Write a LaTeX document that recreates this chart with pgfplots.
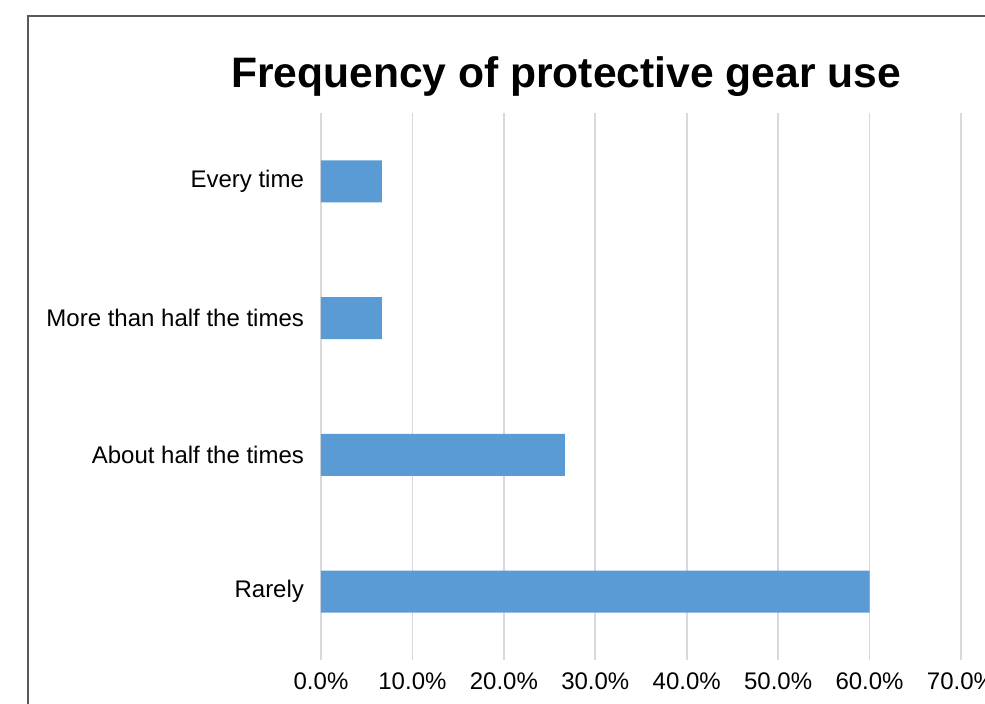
\documentclass[border=0pt]{standalone}
\usepackage{pgfplots}
\pgfplotsset{compat=1.18}
\usepackage{fontspec}
\setmainfont{Liberation Sans}
\definecolor{barblue}{HTML}{5B9BD5}
\definecolor{gridgray}{HTML}{D9D9D9}
\definecolor{framegray}{HTML}{595959}
\begin{document}
\begin{tikzpicture}
% page area and chart frame
\path[use as bounding box] (-160.5pt,-21.5pt) rectangle (332pt,330pt);
\draw[framegray, line width=0.8pt] (-146.5pt,-60pt) -- (-146.5pt,322pt) -- (360pt,322pt);
\node[anchor=base, font=\fontsize{21.3}{24}\selectfont\bfseries] at (122.5pt,286pt) {Frequency of protective gear use};
\begin{axis}[
  at={(0pt,0pt)}, anchor=south west,
  scale only axis, width=320pt, height=273.5pt,
  xbar, bar width=21pt,
  xmin=0, xmax=70, ymin=-0.5, ymax=3.5,
  axis line style={draw=none},
  xmajorgrids, grid style={gridgray, line width=0.8pt},
  xtick={0,10,...,70},
  ytick={0,1,2,3},
  yticklabels={Rarely, About half the times, More than half the times, Every time},
  xticklabel={\pgfmathprintnumber[fixed,fixed zerofill,precision=1]{\tick}\%},
  /pgf/number format/assume math mode=true,
  tick label style={font=\fontsize{12}{14}\selectfont, black},
  xticklabel style={yshift=-3pt},
  yticklabel style={xshift=-5pt},
  major tick length=0pt, tick style={draw=none},
  clip=false,
]
\addplot[fill=barblue, draw=none] coordinates {(60.0,0) (26.67,1) (6.67,2) (6.67,3)};
\end{axis}
\end{tikzpicture}
\end{document}
